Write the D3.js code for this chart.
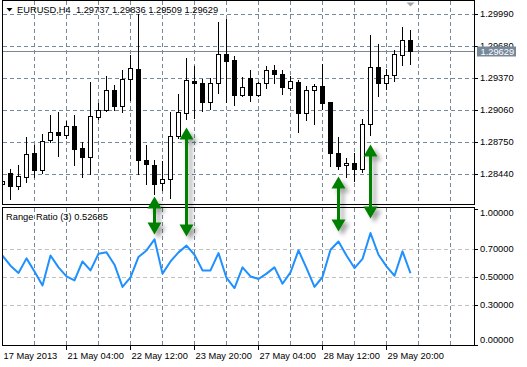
<!DOCTYPE html>
<html><head><meta charset="utf-8">
<script src="https://cdnjs.cloudflare.com/ajax/libs/d3/7.8.5/d3.min.js"></script>
<style>
html,body{margin:0;padding:0;background:#fff;}
svg{display:block;font-family:"Liberation Sans",Arial,sans-serif;}
text{white-space:pre;}
</style></head><body>
<svg id="c" width="527" height="367"></svg>
<script>
// ---- data (EURUSD H4, bars left to right) ----
const opens = [1.28344,1.28451,1.28328,1.28410,1.28643,1.28483,1.28765,1.28847,1.28814,1.28908,
1.28695,1.28600,1.28993,1.29057,1.29255,1.29100,1.29362,1.29462,1.28575,1.28526,
1.28351,1.28390,1.28804,1.29028,1.29343,1.29326,1.29139,1.29323,1.29606,1.29540,
1.29205,1.29372,1.29205,1.29323,1.29450,1.29411,1.29271,1.29333,1.29032,1.29258,
1.29297,1.29135,1.28643,1.28526,1.28546,1.28487,1.28925,1.29479,1.29323,1.29401,
1.29595,1.29737];
const highs = [1.28383,1.28490,1.28529,1.28794,1.28717,1.28827,1.29015,1.29044,1.28954,1.29015,
1.28753,1.29336,1.29129,1.29391,1.29304,1.29452,1.29589,1.29987,1.28724,1.28571,
1.28568,1.29041,1.29219,1.29566,1.29485,1.29365,1.29370,1.29912,1.29938,1.29579,
1.29375,1.29452,1.29331,1.29491,1.29494,1.29443,1.29387,1.29349,1.29297,1.29314,
1.29501,1.29135,1.28801,1.28597,1.28646,1.28976,1.29786,1.29696,1.29459,1.29644,
1.29861,1.29836];
const lows = [1.28325,1.28196,1.28299,1.28367,1.28415,1.28451,1.28753,1.28619,1.28792,1.28532,
1.28415,1.28442,1.28973,1.29054,1.29064,1.29037,1.29154,1.28439,1.28341,1.28244,
1.28286,1.28211,1.28792,1.28973,1.28983,1.29047,1.29073,1.29226,1.29135,1.29107,
1.29193,1.29151,1.29195,1.29271,1.29323,1.29219,1.29251,1.28847,1.28966,1.28928,
1.29073,1.28522,1.28490,1.28415,1.28373,1.28464,1.28821,1.29193,1.29268,1.29339,
1.29494,1.29509];
const closes = [1.28373,1.28328,1.28422,1.28633,1.28483,1.28759,1.28847,1.28814,1.28908,1.28678,
1.28600,1.29002,1.29057,1.29251,1.29103,1.29362,1.29469,1.28571,1.28536,1.28347,
1.28390,1.28808,1.29041,1.29352,1.29323,1.29137,1.29324,1.29606,1.29533,1.29205,
1.29284,1.29205,1.29323,1.29450,1.29407,1.29285,1.29339,1.29032,1.29251,1.29297,
1.29129,1.28639,1.28522,1.28546,1.28485,1.28925,1.29479,1.29323,1.29401,1.29605,
1.29737,1.29629];
const rangeRatio = [0.652,0.581,0.529,0.633,0.540,0.440,0.654,0.569,0.504,0.476,
0.611,0.547,0.666,0.676,0.588,0.429,0.497,0.643,0.690,0.769,
0.524,0.611,0.676,0.724,0.659,0.547,0.547,0.671,0.493,0.421,
0.569,0.504,0.486,0.524,0.569,0.452,0.533,0.690,0.564,0.429,
0.500,0.695,0.754,0.653,0.564,0.629,0.814,0.659,0.576,0.509,
0.683,0.52685];
const priceTicks = [1.29990,1.29680,1.29370,1.29060,1.28750,1.28440];
const ratioTicks = [1.0,0.7,0.5,0.3,0.0];
const ratioLevels = [0.7,0.5,0.3];
const timeTickBars = [0,8,16,24,32,40,48];
const timeLabels = ["17 May 2013","21 May 04:00","22 May 12:00","23 May 20:00","27 May 04:00","28 May 12:00","29 May 20:00"];
// annotation arrows: bar index, price of upper tip, indicator value of lower tip
const arrowBars = [19,23,42,46];
const arrowTopPrice = [1.28222,1.28890,1.28416,1.28726];
const arrowBottomRatio = [0.804,0.789,0.825,0.918];

// ---- layout ----
const left=2.5, right=474.5, mainTop=0.5, mainBot=204.5, indTop=207.5, indBot=345.5;
const gridCol="#778899";
const n = closes.length;

const x = d3.scaleLinear().domain([0,n-1]).range([2,2+8*(n-1)]);
const yP = d3.scaleLinear().domain([1.28440,1.29990]).range([174,14]);
const yR = d3.scaleLinear().domain([0,1]).range([347,207]);

const svg = d3.select("#c");
const defs = svg.append("defs");
defs.append("clipPath").attr("id","cm").append("rect").attr("x",3).attr("y",1).attr("width",471).attr("height",203);
defs.append("clipPath").attr("id","ci").append("rect").attr("x",3).attr("y",208).attr("width",471).attr("height",137);
const f = defs.append("filter").attr("id","sh").attr("x","-100%").attr("y","-50%").attr("width","300%").attr("height","200%");
f.append("feDropShadow").attr("dx",4).attr("dy",4).attr("stdDeviation",2).attr("flood-color","#000").attr("flood-opacity",0.35);

svg.append("rect").attr("width",527).attr("height",367).attr("fill","#fff");

// ---- grids ----
const gridBars = d3.range(4, 57, 4);
const gm = svg.append("g").attr("shape-rendering","crispEdges").attr("stroke",gridCol).attr("stroke-dasharray","4,3");
gm.selectAll("line.v").data(gridBars).join("line").attr("class","v")
  .attr("x1",d=>x(d)+0.5).attr("x2",d=>x(d)+0.5).attr("y1",mainTop).attr("y2",mainBot);
gm.selectAll("line.h").data(priceTicks).join("line").attr("class","h")
  .attr("x1",left).attr("x2",right).attr("y1",d=>yP(d)+0.5).attr("y2",d=>yP(d)+0.5);
const gi = svg.append("g").attr("shape-rendering","crispEdges").attr("stroke-dasharray","4,3");
gi.selectAll("line.v").data(gridBars).join("line").attr("class","v").attr("stroke",gridCol)
  .attr("x1",d=>x(d)+0.5).attr("x2",d=>x(d)+0.5).attr("y1",indTop).attr("y2",indBot);
gi.selectAll("line.h").data(ratioLevels).join("line").attr("class","h").attr("stroke","#c0c0c0")
  .attr("x1",left).attr("x2",right).attr("y1",d=>yR(d)+0.5).attr("y2",d=>yR(d)+0.5);

// current price line
const lastY = Math.round(yP(closes[n-1]))+0.5;
svg.append("line").attr("x1",left).attr("x2",right).attr("y1",lastY).attr("y2",lastY)
  .attr("stroke",gridCol).attr("shape-rendering","crispEdges");

// ---- candles ----
const cg = svg.append("g").attr("clip-path","url(#cm)").attr("shape-rendering","crispEdges");
const bars = d3.range(n).map(i=>({i,o:opens[i],h:highs[i],l:lows[i],c:closes[i]}));
const row = p => Math.round(yP(p));
cg.selectAll("rect.w").data(bars).join("rect").attr("class","w")
  .attr("x",d=>x(d.i)).attr("y",d=>row(d.h)).attr("width",1).attr("height",d=>row(d.l)-row(d.h)+1).attr("fill","#000");
cg.selectAll("rect.b").data(bars).join("rect").attr("class","b")
  .each(function(d){
    const top=row(Math.max(d.o,d.c)), bot=row(Math.min(d.o,d.c));
    const s=d3.select(this);
    if(d.c<d.o){ s.attr("x",x(d.i)-2).attr("y",top).attr("width",5).attr("height",bot-top+1).attr("fill","#000"); }
    else { s.attr("x",x(d.i)-1.5).attr("y",top+0.5).attr("width",4).attr("height",Math.max(bot-top,1)).attr("fill","#fff").attr("stroke","#000"); }
  });

// ---- indicator line ----
svg.append("g").attr("clip-path","url(#ci)").append("path")
  .datum(rangeRatio)
  .attr("d", d3.line().x((d,i)=>x(i)+0.5).y(d=>yR(d)))
  .attr("fill","none").attr("stroke","#1e90ff").attr("stroke-width",2).attr("stroke-linejoin","round");

// ---- pane borders ----
const bg = svg.append("g").attr("fill","none").attr("stroke","#000").attr("shape-rendering","crispEdges");
bg.append("rect").attr("x",left).attr("y",mainTop).attr("width",right-left).attr("height",mainBot-mainTop);
bg.append("rect").attr("x",left).attr("y",indTop).attr("width",right-left).attr("height",indBot-indTop);

// ---- axes ----
const fnt = 9.3;
function styleAxis(g){
  g.attr("font-family",'"Liberation Sans",Arial,sans-serif').attr("font-size",fnt);
  g.select(".domain").remove();
  g.selectAll(".tick line").attr("stroke","#000").attr("shape-rendering","crispEdges");
  g.selectAll(".tick text").attr("fill","#000");
}
const pa = svg.append("g").attr("transform",`translate(${right-0.5},0)`)
  .call(d3.axisRight(yP).tickValues(priceTicks).tickSize(4).tickPadding(2).tickFormat(d3.format(".5f")));
styleAxis(pa);

const ra = svg.append("g").attr("transform",`translate(${right-0.5},0)`)
  .call(d3.axisRight(yR).tickValues(ratioTicks).tickSize(4).tickPadding(2).tickFormat(d3.format(".5f")));
styleAxis(ra);
ra.selectAll(".tick").filter(d=>d===1).attr("transform",`translate(0,${indTop+2})`).select("text").attr("dy","0.32em").attr("y",3.2);
ra.selectAll(".tick").filter(d=>d===0).attr("transform",`translate(0,${indBot})`).select("text").attr("dy","0.32em").attr("y",-5.5);

const ta = svg.append("g").attr("transform",`translate(0,${indBot-0.5})`)
  .call(d3.axisBottom(x).tickValues(timeTickBars).tickSize(5).tickFormat((d,i)=>timeLabels[i]));
styleAxis(ta);
ta.selectAll(".tick text").attr("text-anchor","start").attr("x",1).attr("y",13.5).attr("dy",0);
ta.selectAll(".tick").filter(d=>d===0).select("line").remove();

// ---- last price box ----
svg.append("rect").attr("x",477).attr("y",lastY-5).attr("width",39).attr("height",10).attr("fill","#778899");
svg.append("text").attr("x",480.5).attr("y",lastY).attr("dy","0.34em").attr("font-size",fnt).attr("fill","#fff")
  .text(d3.format(".5f")(closes[n-1]));

// ---- titles ----
svg.append("path").attr("d","M6.5,8L12.5,8L9.5,11.5Z").attr("fill","#000");
const fmt = d3.format(".5f");
svg.append("text").attr("x",17).attr("y",13.3).attr("font-size",fnt).attr("fill","#000")
  .text(`EURUSD,H4  ${fmt(opens[n-1])} ${fmt(highs[n-1])} ${fmt(lows[n-1])} ${fmt(closes[n-1])}`);
svg.append("text").attr("x",6).attr("y",220).attr("font-size",fnt).attr("fill","#000")
  .text(`Range Ratio (3) ${fmt(rangeRatio[n-1])}`);

// shift marker
const sx = x(n-1)+0.5;
svg.append("path").attr("d",`M${sx-4},2.5L${sx+4},2.5L${sx},6.5Z`).attr("fill","#9aa6b2");

// ---- arrows ----
const ag = svg.append("g").attr("filter","url(#sh)");
arrowBars.forEach((b,i)=>{
  const cx = x(b)+0.5, t = yP(arrowTopPrice[i]), bt = yR(arrowBottomRatio[i]);
  const hw=7, hh=12, sw=1.5;
  const p = d3.path();
  p.moveTo(cx,t); p.lineTo(cx+hw,t+hh); p.lineTo(cx+sw,t+hh); p.lineTo(cx+sw,bt-hh); p.lineTo(cx+hw,bt-hh);
  p.lineTo(cx,bt); p.lineTo(cx-hw,bt-hh); p.lineTo(cx-sw,bt-hh); p.lineTo(cx-sw,t+hh); p.lineTo(cx-hw,t+hh); p.closePath();
  ag.append("path").attr("d",p.toString()).attr("fill","#008000");
});
</script>
</body></html>
